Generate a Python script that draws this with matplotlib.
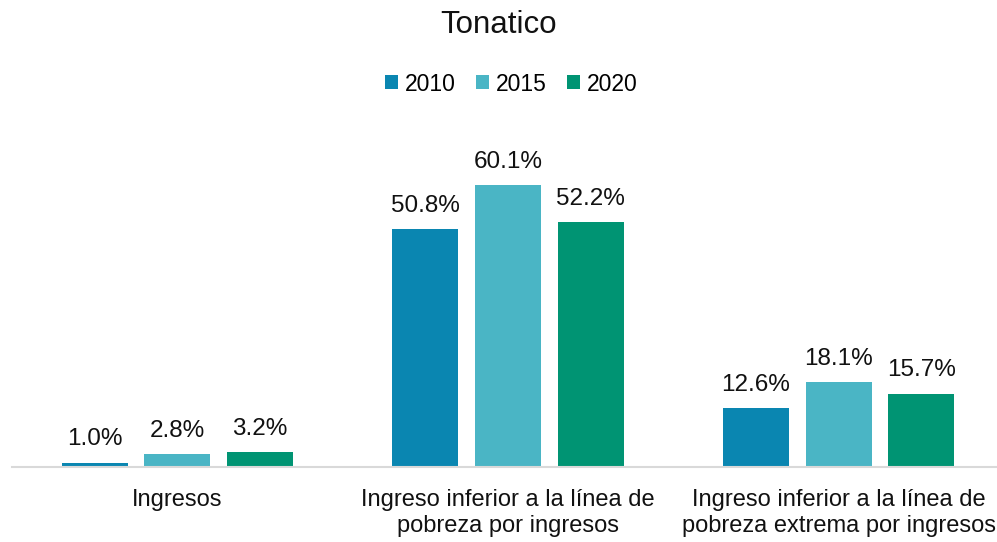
import numpy as np
import matplotlib.pyplot as plt

plt.rcParams['font.family'] = ['Liberation Sans', 'DejaVu Sans']

categories = ["Ingresos",
              "Ingreso inferior a la línea de\npobreza por ingresos",
              "Ingreso inferior a la línea de\npobreza extrema por ingresos"]
years = ["2010", "2015", "2020"]
values = {
    "2010": [1.0, 50.8, 12.6],
    "2015": [2.8, 60.1, 18.1],
    "2020": [3.2, 52.2, 15.7],
}
colors = ["#0A86B1", "#4AB5C5", "#009473"]

fig = plt.figure(figsize=(9.97, 5.42), dpi=100)
ax = fig.add_axes([0.012, 0.138, 0.995, 0.606])

x = np.arange(len(categories))
width = 0.2
step = 0.25
for i, (yr, col) in enumerate(zip(years, colors)):
    pos = x + (i - 1) * step
    bars = ax.bar(pos, values[yr], width, color=col, label=yr)
    for b, v in zip(bars, values[yr]):
        ax.text(b.get_x() + b.get_width() / 2, v + 2.6, f"{v:.1f}%",
                ha="center", va="bottom", fontsize=17.5, color="#111111")

ax.set_xlim(-0.5, 2.5)
ax.set_ylim(0, 70)
ax.set_yticks([])
ax.set_xticks(x)
ax.set_xticklabels(categories, fontsize=17, color="#111111", linespacing=1.2)
ax.tick_params(axis="x", length=0, pad=16)
for s in ["top", "right", "left"]:
    ax.spines[s].set_visible(False)
ax.spines["bottom"].set_color("#D9D9D9")
ax.spines["bottom"].set_linewidth(1.5)

fig.suptitle("Tonatico", fontsize=22.5, y=0.982, color="#111111")
fig.legend(loc="center", bbox_to_anchor=(0.513, 0.845), ncol=3, frameon=False,
           fontsize=16.5, handlelength=0.55, handleheight=0.55, handletextpad=0.3,
           columnspacing=0.9)

fig.savefig("out.png", dpi=100)
